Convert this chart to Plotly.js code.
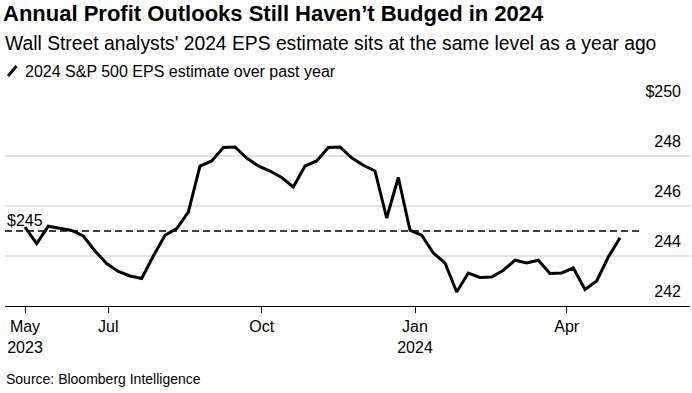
<!DOCTYPE html>
<html>
<head>
<meta charset="utf-8">
<script src="https://cdn.plot.ly/plotly-3.0.1.min.js"></script>
<style>html,body{margin:0;padding:0;background:#fff;}#chart{width:692px;height:393px;}</style>
</head>
<body>
<div id="chart"></div>
<script>
// ---- data ----
const dates = [
  '2023-05-12','2023-05-19','2023-05-26','2023-06-02','2023-06-09','2023-06-16','2023-06-23','2023-06-30',
  '2023-07-07','2023-07-14','2023-07-21','2023-07-28','2023-08-04','2023-08-11','2023-08-18','2023-08-25',
  '2023-09-01','2023-09-08','2023-09-15','2023-09-22','2023-09-29','2023-10-06','2023-10-13','2023-10-20',
  '2023-10-27','2023-11-03','2023-11-10','2023-11-17','2023-11-24','2023-12-01','2023-12-08','2023-12-15',
  '2023-12-22','2023-12-29','2024-01-05','2024-01-12','2024-01-19','2024-01-26','2024-02-02','2024-02-09',
  '2024-02-16','2024-02-23','2024-03-01','2024-03-08','2024-03-15','2024-03-22','2024-03-29','2024-04-05',
  '2024-04-12','2024-04-19','2024-04-26','2024-05-03'
];
const epsEstimate = [
  245.16, 244.5, 245.19, 245.1, 245.02, 244.8, 244.2, 243.7, 243.38, 243.2,
  243.1, 244.0, 244.83, 245.1, 245.76, 247.6, 247.8, 248.34, 248.36, 247.92,
  247.6, 247.4, 247.14, 246.76, 247.6, 247.8, 248.34, 248.36, 247.93, 247.63,
  247.4, 245.52, 247.14, 245.03, 244.83, 244.12, 243.72, 242.56, 243.32, 243.14,
  243.16, 243.43, 243.83, 243.72, 243.83, 243.3, 243.32, 243.52, 242.66, 243.0,
  243.96, 244.73
];
const refLevel = 245;
const refLabel = '$245';
const refStart = '2023-04-30';
const refEnd = '2024-05-15';
const xTickVals = ['2023-05-12','2023-07-01','2023-10-01','2024-01-01','2024-04-01'];
const xTickText = ['May<br>2023','Jul','Oct','Jan<br>2024','Apr'];
const yTickVals = [242, 244, 246, 248, 250];
const yTickText = ['242','244','246','248','$250'];
const seriesName = '2024 S&P 500 EPS estimate over past year';
const titleText = 'Annual Profit Outlooks Still Haven’t Budged in 2024';
const subtitleText = "Wall Street analysts' 2024 EPS estimate sits at the same level as a year ago";
const sourceText = 'Source: Bloomberg Intelligence';

// ---- layout helpers ----
const W = 692, H = 393;
const M = {l: 5, r: 2, t: 106, b: 87};
const pw = W - M.l - M.r, ph = H - M.t - M.b;
const px = x => (x - M.l) / pw;
const py = y => (H - M.b - y) / ph;
const FONT = 'Liberation Sans, Arial, Helvetica, sans-serif';

const trace = {
  x: dates, y: epsEstimate, type: 'scatter', mode: 'lines', name: seriesName,
  line: {color: '#000', width: 3}, showlegend: false, hoverinfo: 'x+y'
};

const layout = {
  width: W, height: H,
  margin: M,
  paper_bgcolor: '#fff', plot_bgcolor: '#fff',
  font: {family: FONT, color: '#000'},
  title: {
    text: titleText,
    font: {family: FONT, size: 22, weight: 700, color: '#000'},
    xref: 'container', yref: 'container', x: 3 / W, xanchor: 'left',
    y: 1 - 5.5 / H, yanchor: 'top', pad: {t: 0, l: 0}
  },
  xaxis: {
    type: 'date', range: ['2023-04-30', '2024-06-14'],
    tickmode: 'array', tickvals: xTickVals, ticktext: xTickText,
    ticks: 'outside', ticklen: 6, tickcolor: '#000', tickwidth: 1,
    showline: true, linecolor: '#000', linewidth: 1,
    showgrid: false, zeroline: false,
    tickfont: {family: FONT, size: 16, color: '#000'}
  },
  yaxis: {
    range: [242, 250], side: 'right',
    tickmode: 'array', tickvals: yTickVals, ticktext: yTickText,
    ticklabelposition: 'inside top', ticklabeloverflow: 'allow',
    ticklabelstandoff: 6, ticklabelshift: -3,
    ticks: '', showgrid: true, gridcolor: '#e3e3e3', gridwidth: 1.2,
    zeroline: false, showline: false,
    tickfont: {family: FONT, size: 16, color: '#000'}
  },
  shapes: [
    {type: 'line', xref: 'x', yref: 'y', x0: refStart, x1: refEnd, y0: refLevel, y1: refLevel,
     line: {color: '#000', width: 1.5, dash: '7px,4px'}, layer: 'below'},
    {type: 'line', xref: 'paper', yref: 'paper', x0: px(8), x1: px(16.5), y0: py(76), y1: py(66),
     line: {color: '#000', width: 2.8}}
  ],
  annotations: [
    {text: subtitleText, xref: 'paper', yref: 'paper', x: px(3), y: py(43),
     xanchor: 'left', yanchor: 'middle', showarrow: false,
     font: {family: FONT, size: 19.3, color: '#000'}},
    {text: seriesName, xref: 'paper', yref: 'paper', x: px(23), y: py(71),
     xanchor: 'left', yanchor: 'middle', showarrow: false,
     font: {family: FONT, size: 16, color: '#000'}},
    {text: refLabel, xref: 'paper', yref: 'y', x: 0, y: refLevel, yshift: 11,
     xanchor: 'left', yanchor: 'middle', showarrow: false,
     font: {family: FONT, size: 16, color: '#000'}},
    {text: sourceText, xref: 'paper', yref: 'paper', x: px(4), y: py(379),
     xanchor: 'left', yanchor: 'middle', showarrow: false,
     font: {family: FONT, size: 14, color: '#000'}}
  ]
};

Plotly.newPlot('chart', [trace], layout, {displayModeBar: false, staticPlot: true});
</script>
</body>
</html>
